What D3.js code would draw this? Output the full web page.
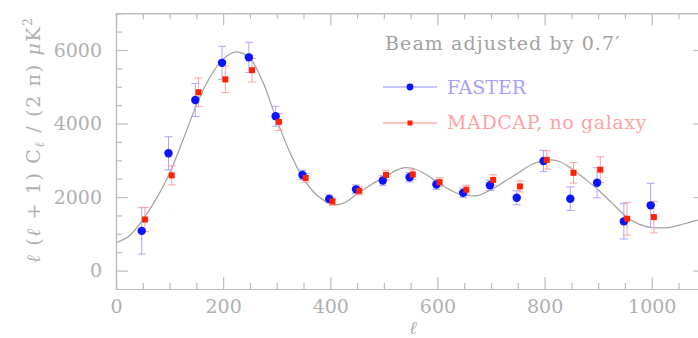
<!DOCTYPE html>
<html>
<head>
<meta charset="utf-8">
<script src="https://cdn.jsdelivr.net/npm/d3@7"></script>
<style>
body { margin: 0; background: #fff; }
svg { display: block; }
</style>
</head>
<body>
<script>
// FASTER points (blue circles)
var fasterEll = [48, 98, 148, 198, 248, 298, 348, 398, 448, 498, 548, 598, 648, 698, 748, 798, 848, 898, 948, 998];
var fasterVal = [1080, 3190, 4640, 5650, 5800, 4200, 2600, 1950, 2210, 2450, 2540, 2340, 2115, 2320, 1980, 2980, 1955, 2390, 1340, 1775];
var fasterErr = [630, 450, 450, 450, 410, 270, 130, 110, 120, 130, 130, 130, 130, 140, 190, 290, 320, 410, 480, 600];

// MADCAP, no galaxy (red squares)
var madcapEll = [54, 104, 154, 204, 254, 304, 354, 404, 454, 504, 554, 604, 654, 704, 754, 804, 854, 904, 954, 1004];
var madcapVal = [1390, 2590, 4850, 5200, 5450, 4045, 2520, 1880, 2170, 2600, 2615, 2405, 2200, 2465, 2290, 3010, 2660, 2745, 1410, 1455];
var madcapErr = [330, 260, 390, 360, 320, 230, 120, 100, 110, 130, 130, 120, 120, 140, 150, 250, 280, 350, 445, 430];

// model curve
var modelEll = [2, 25, 50, 75, 100, 125, 150, 175, 200, 225, 250, 275, 300, 325, 350, 375, 400, 412, 425, 450, 475, 500, 525, 540, 550, 575, 600, 625, 650, 670, 700, 725, 750, 775, 800, 810, 825, 850, 875, 900, 925, 950, 975, 1000, 1025, 1050, 1075, 1100];
var modelVal = [770, 950, 1380, 1950, 2650, 3550, 4500, 5250, 5750, 5950, 5780, 5100, 4100, 3200, 2500, 2050, 1830, 1790, 1840, 2080, 2330, 2530, 2740, 2800, 2790, 2650, 2400, 2180, 2050, 2030, 2200, 2420, 2650, 2880, 3000, 3010, 2980, 2780, 2500, 2200, 1850, 1500, 1270, 1170, 1160, 1230, 1330, 1420];

var xMajor = [0, 200, 400, 600, 800, 1000];
var yMajor = [0, 2000, 4000, 6000];
var legendLabels = ["FASTER", "MADCAP, no galaxy"];
var noteText = "Beam adjusted by 0.7\u2032";

var width = 698, height = 338;
var axisCol = "#bdbdbd", textCol = "#b0b0b0";
var font = "'DejaVu Serif', serif";

var x = d3.scaleLinear().domain([0, 1100]).range([116, 705.3]);
var y = d3.scaleLinear().domain([-500, 7000]).range([289, 13.2]);

var svg = d3.select("body").append("svg").attr("width", width).attr("height", height);

var xMinor = d3.range(0, 1101, 50).filter(function (d) { return d % 200 !== 0; });
var yMinor = d3.range(-500, 7001, 500).filter(function (d) { return d % 2000 !== 0; });

function styleAxis(g) {
    g.selectAll("path, line").attr("stroke", axisCol).attr("stroke-width", 1.2);
    g.selectAll("text").attr("fill", textCol).attr("font-family", font).attr("font-size", 19);
}

// minor ticks
svg.append("g").attr("transform", "translate(0," + y(-500) + ")")
    .call(d3.axisBottom(x).tickValues(xMinor).tickSize(-6).tickFormat(""))
    .call(styleAxis);
svg.append("g").attr("transform", "translate(0," + y(7000) + ")")
    .call(d3.axisTop(x).tickValues(xMinor).tickSize(-6).tickFormat(""))
    .call(styleAxis);
svg.append("g").attr("transform", "translate(" + x(0) + ",0)")
    .call(d3.axisLeft(y).tickValues(yMinor).tickSize(-6).tickFormat(""))
    .call(styleAxis);
svg.append("g").attr("transform", "translate(" + x(1100) + ",0)")
    .call(d3.axisRight(y).tickValues(yMinor).tickSize(-6).tickFormat(""))
    .call(styleAxis);

// major ticks
svg.append("g").attr("transform", "translate(0," + y(-500) + ")")
    .call(d3.axisBottom(x).tickValues(xMajor).tickSizeInner(-12).tickSizeOuter(0).tickPadding(11).tickFormat(d3.format("d")))
    .call(styleAxis);
svg.append("g").attr("transform", "translate(0," + y(7000) + ")")
    .call(d3.axisTop(x).tickValues(xMajor).tickSizeInner(-12).tickSizeOuter(0).tickFormat(""))
    .call(styleAxis);
svg.append("g").attr("transform", "translate(" + x(0) + ",0)")
    .call(d3.axisLeft(y).tickValues(yMajor).tickSizeInner(-12).tickSizeOuter(0).tickPadding(14).tickFormat(d3.format("d")))
    .call(styleAxis);
svg.append("g").attr("transform", "translate(" + x(1100) + ",0)")
    .call(d3.axisRight(y).tickValues(yMajor).tickSizeInner(-12).tickSizeOuter(0).tickFormat(""))
    .call(styleAxis);

// model curve
var line = d3.line()
    .x(function (d, i) { return x(modelEll[i]); })
    .y(function (d) { return y(d); })
    .curve(d3.curveMonotoneX);
svg.append("path").attr("d", line(modelVal))
    .attr("fill", "none").attr("stroke", "#a0a0a0").attr("stroke-width", 1.2);

function errorBars(ells, vals, errs, col) {
    var g = svg.append("g").attr("stroke", col).attr("stroke-width", 1);
    vals.forEach(function (v, i) {
        var cx = x(ells[i]);
        g.append("line").attr("x1", cx).attr("x2", cx).attr("y1", y(v - errs[i])).attr("y2", y(v + errs[i]));
        g.append("line").attr("x1", cx - 4).attr("x2", cx + 4).attr("y1", y(v - errs[i])).attr("y2", y(v - errs[i]));
        g.append("line").attr("x1", cx - 4).attr("x2", cx + 4).attr("y1", y(v + errs[i])).attr("y2", y(v + errs[i]));
    });
}
errorBars(fasterEll, fasterVal, fasterErr, "#a8a8ff");
errorBars(madcapEll, madcapVal, madcapErr, "#ffa0a0");

svg.append("g").selectAll("circle").data(fasterVal).join("circle")
    .attr("cx", function (d, i) { return x(fasterEll[i]); })
    .attr("cy", function (d) { return y(d); })
    .attr("r", 4.2).attr("fill", "#0a14ff");
svg.append("g").selectAll("rect").data(madcapVal).join("rect")
    .attr("x", function (d, i) { return x(madcapEll[i]) - 3; })
    .attr("y", function (d) { return y(d) - 3; })
    .attr("width", 6).attr("height", 6).attr("fill", "#ff2200");

// legend
svg.append("text").attr("x", 385).attr("y", 50).text(noteText)
    .attr("font-family", font).attr("font-size", 19).attr("fill", "#a2a2a2")
    .attr("letter-spacing", 1.1);

var leg = svg.append("g");
leg.append("line").attr("x1", 383).attr("x2", 437).attr("y1", 87).attr("y2", 87).attr("stroke", "#8c8cff");
leg.append("circle").attr("cx", 410).attr("cy", 87).attr("r", 3.4).attr("fill", "#0a14ff");
leg.append("text").attr("x", 447).attr("y", 94).text(legendLabels[0])
    .attr("font-family", font).attr("font-size", 19).attr("fill", "#a2a2ff");
leg.append("line").attr("x1", 383).attr("x2", 437).attr("y1", 123).attr("y2", 123).attr("stroke", "#ff8c8c");
leg.append("rect").attr("x", 407.5).attr("y", 120.5).attr("width", 5).attr("height", 5).attr("fill", "#ff2200");
leg.append("text").attr("x", 447).attr("y", 129).text(legendLabels[1])
    .attr("font-family", font).attr("font-size", 19).attr("fill", "#ffa2a2")
    .attr("letter-spacing", 0.6);

// axis titles
svg.append("text").attr("x", 413).attr("y", 334).attr("text-anchor", "middle")
    .attr("font-family", font).attr("font-size", 18).attr("font-style", "italic").attr("fill", textCol)
    .text("\u2113");

var yt = svg.append("text").attr("transform", "translate(40,263) rotate(-90)")
    .attr("font-family", font).attr("font-size", 19).attr("fill", textCol)
    .attr("textLength", 245).attr("lengthAdjust", "spacing");
yt.append("tspan").attr("font-style", "italic").text("\u2113");
yt.append("tspan").text(" (");
yt.append("tspan").attr("font-style", "italic").text("\u2113");
yt.append("tspan").text(" + 1) C");
yt.append("tspan").attr("font-style", "italic").attr("font-size", 13).attr("dy", 4).text("\u2113");
yt.append("tspan").attr("dy", -4).text(" / (2 \u03c0)   ");
yt.append("tspan").attr("font-style", "italic").text("\u03bc");
yt.append("tspan").text("K");
yt.append("tspan").attr("font-size", 12).attr("dy", -8).text("2");
</script>
</body>
</html>
